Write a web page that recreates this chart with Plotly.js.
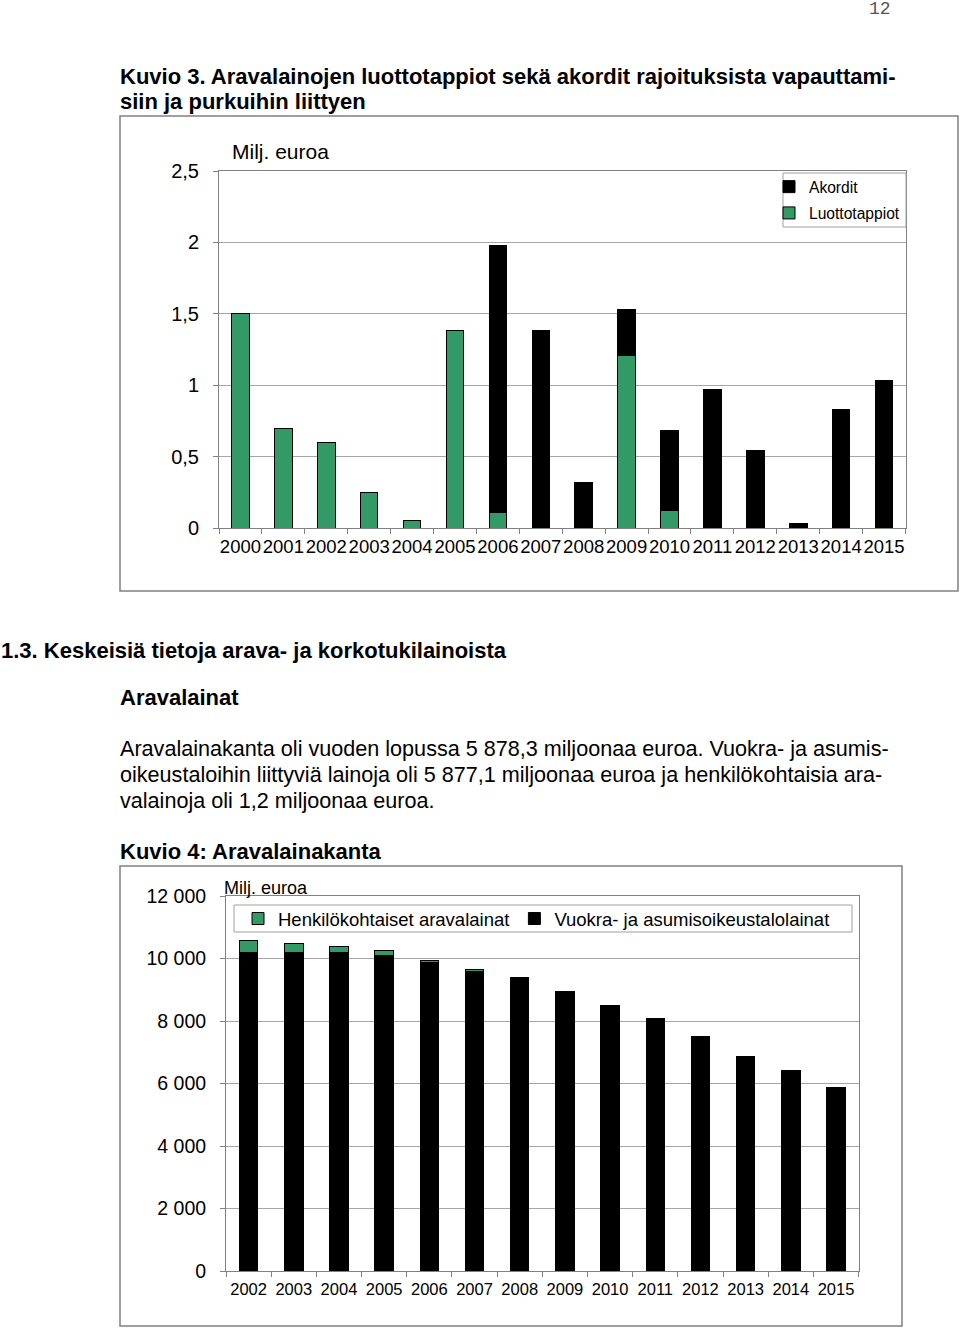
<!DOCTYPE html>
<html>
<head>
<meta charset="utf-8">
<script src="https://cdn.plot.ly/plotly-3.0.1.min.js"></script>
<style>html,body{margin:0;padding:0;background:#fff;}#chart{width:960px;height:1328px;}</style>
</head>
<body>
<div id="chart"></div>
<script>
// ---- Data: Kuvio 3 ----
const years1 = ['2000','2001','2002','2003','2004','2005','2006','2007','2008','2009','2010','2011','2012','2013','2014','2015'];
const luottotappiot = [1.50, 0.70, 0.60, 0.25, 0.05, 1.38, 0.11, 0, 0, 1.21, 0.12, 0, 0, 0, 0, 0];
const akordit       = [0, 0, 0, 0, 0, 0, 1.87, 1.38, 0.32, 0.32, 0.56, 0.97, 0.54, 0.035, 0.83, 1.03];
const yTickVals1 = [0, 0.5, 1, 1.5, 2, 2.5];
const yTickText1 = ['0', '0,5', '1', '1,5', '2', '2,5'];

// ---- Data: Kuvio 4 ----
const years2 = ['2002','2003','2004','2005','2006','2007','2008','2009','2010','2011','2012','2013','2014','2015'];
const vuokraLainat = [10200, 10200, 10190, 10090, 9860, 9600, 9380, 8945, 8495, 8063, 7488, 6869, 6400, 5877.1];
const henkiloLainat = [380, 270, 200, 160, 90, 60, 20, 15, 8, 5, 3, 2, 1.5, 1.2];
const yTickVals2 = [0, 2000, 4000, 6000, 8000, 10000, 12000];
const yTickText2 = ['0', '2 000', '4 000', '6 000', '8 000', '10 000', '12 000'];

const GREEN = '#339966';
const W = 960, H = 1328;
const px = x => x / W;
const py = y => 1 - y / H;
const FONT = 'Liberation Sans, Arial, sans-serif';

const traces = [
  {type:'bar', name:'Luottotappiot', x:years1, y:luottotappiot, xaxis:'x', yaxis:'y',
   marker:{color:GREEN, line:{color:'#000', width:1}}, legend:'legend', legendgroup:'a', legendrank:2, hoverinfo:'skip'},
  {type:'bar', name:'Akordit', x:years1, y:akordit, xaxis:'x', yaxis:'y',
   marker:{color:'#000', line:{color:'#000', width:1}}, legend:'legend', legendgroup:'b', legendrank:1, hoverinfo:'skip'},
  {type:'bar', name:'Vuokra- ja asumisoikeustalolainat', x:years2, y:vuokraLainat, xaxis:'x2', yaxis:'y2',
   marker:{color:'#000', line:{color:'#000', width:1}}, legend:'legend2', legendrank:2, hoverinfo:'skip'},
  {type:'bar', name:'Henkilökohtaiset aravalainat', x:years2, y:henkiloLainat, xaxis:'x2', yaxis:'y2',
   marker:{color:GREEN, line:{color:'#000', width:1}}, legend:'legend2', legendrank:1, hoverinfo:'skip'}
];

function ann(text, x, y, size, opts) {
  return Object.assign({text:text, x:px(x), y:py(y), xref:'paper', yref:'paper', xanchor:'left', yanchor:'middle',
    showarrow:false, font:{family:FONT, size:size, color:'#000'}}, opts || {});
}

const layout = {
  width:W, height:H, margin:{l:0, r:0, t:0, b:0},
  paper_bgcolor:'#fff', plot_bgcolor:'#fff',
  barmode:'stack', bargap:0.59,
  separators:', ',
  font:{family:FONT, color:'#000'},
  showlegend:true,
  xaxis:{domain:[px(219), px(905.5)], anchor:'y', type:'category', showgrid:false,
    showline:true, linecolor:'#808080', mirror:true, ticks:'outside', tickson:'boundaries', ticklen:5,
    tickcolor:'#808080', tickangle:0, tickfont:{size:18.5, family:FONT}, ticklabelstandoff:2, fixedrange:true},
  yaxis:{domain:[py(528), py(171)], anchor:'x', range:[0, 2.5], tickvals:yTickVals1, ticktext:yTickText1,
    showgrid:true, gridcolor:'#a6a6a6', gridwidth:1, zeroline:false, showline:true, linecolor:'#808080', mirror:true,
    ticks:'outside', ticklen:5, tickcolor:'#808080', tickfont:{size:20, family:FONT}, ticklabelstandoff:10, fixedrange:true},
  xaxis2:{domain:[px(226), px(858.6)], anchor:'y2', type:'category', showgrid:false,
    showline:true, linecolor:'#808080', mirror:true, ticks:'outside', tickson:'boundaries', ticklen:5,
    tickcolor:'#808080', tickangle:0, tickfont:{size:16.5, family:FONT}, ticklabelstandoff:3, fixedrange:true},
  yaxis2:{domain:[py(1271), py(896)], anchor:'x2', range:[0, 12000], tickvals:yTickVals2, ticktext:yTickText2,
    showgrid:true, gridcolor:'#a6a6a6', gridwidth:1, zeroline:false, showline:true, linecolor:'#808080', mirror:true,
    ticks:'outside', ticklen:5, tickcolor:'#808080', tickfont:{size:19.5, family:FONT}, ticklabelstandoff:10, fixedrange:true},
  legend:{x:px(769), y:py(170), xanchor:'left', yanchor:'top', orientation:'v', traceorder:'grouped',
    tracegroupgap:3, bgcolor:'rgba(0,0,0,0)', borderwidth:0, font:{size:15.6, family:FONT},
    itemwidth:30, itemclick:false, itemdoubleclick:false},
  legend2:{x:px(238), y:py(900), xanchor:'left', yanchor:'top', orientation:'h', traceorder:'normal',
    bgcolor:'rgba(0,0,0,0)', borderwidth:0, font:{size:18.5, family:FONT},
    itemwidth:30, itemclick:false, itemdoubleclick:false},
  shapes:[
    {type:'rect', xref:'paper', yref:'paper', x0:px(120), x1:px(958), y0:py(591), y1:py(116), line:{color:'#808080', width:1.5}, fillcolor:'rgba(0,0,0,0)', layer:'below'},
    {type:'rect', xref:'paper', yref:'paper', x0:px(120), x1:px(902), y0:py(1326), y1:py(866), line:{color:'#808080', width:1.5}, fillcolor:'rgba(0,0,0,0)', layer:'below'},
    {type:'rect', xref:'paper', yref:'paper', x0:px(783), x1:px(906), y0:py(227), y1:py(173), line:{color:'#a0a0a0', width:1}, fillcolor:'#fff', layer:'above'},
    {type:'rect', xref:'paper', yref:'paper', x0:px(234), x1:px(852), y0:py(932), y1:py(905), line:{color:'#a0a0a0', width:1}, fillcolor:'#fff', layer:'above'}
  ],
  annotations:[
    ann('12', 893, 9, 18, {xanchor:'right', font:{family:'Liberation Mono, DejaVu Sans Mono, monospace', size:18, color:'#555'}}),
    ann('<b>Kuvio 3. Aravalainojen luottotappiot sekä akordit rajoituksista vapauttami-</b>', 118, 76, 22),
    ann('<b>siin ja purkuihin liittyen</b>', 118, 102, 22),
    ann('Milj. euroa', 230, 152, 21),
    ann('<b>1.3. Keskeisiä tietoja arava- ja korkotukilainoista</b>', -1, 650, 22),
    ann('<b>Aravalainat</b>', 118, 697, 22),
    ann('Aravalainakanta oli vuoden lopussa 5 878,3 miljoonaa euroa. Vuokra- ja asumis-', 118, 748, 21.6),
    ann('oikeustaloihin liittyviä lainoja oli 5 877,1 miljoonaa euroa ja henkilökohtaisia ara-', 118, 774, 21.6),
    ann('valainoja oli 1,2 miljoonaa euroa.', 118, 800, 21.6),
    ann('<b>Kuvio 4: Aravalainakanta</b>', 118, 851, 22),
    ann('Milj. euroa', 222, 888, 18)
  ]
};

Plotly.newPlot('chart', traces, layout, {staticPlot:true, displayModeBar:false});
</script>
</body>
</html>
